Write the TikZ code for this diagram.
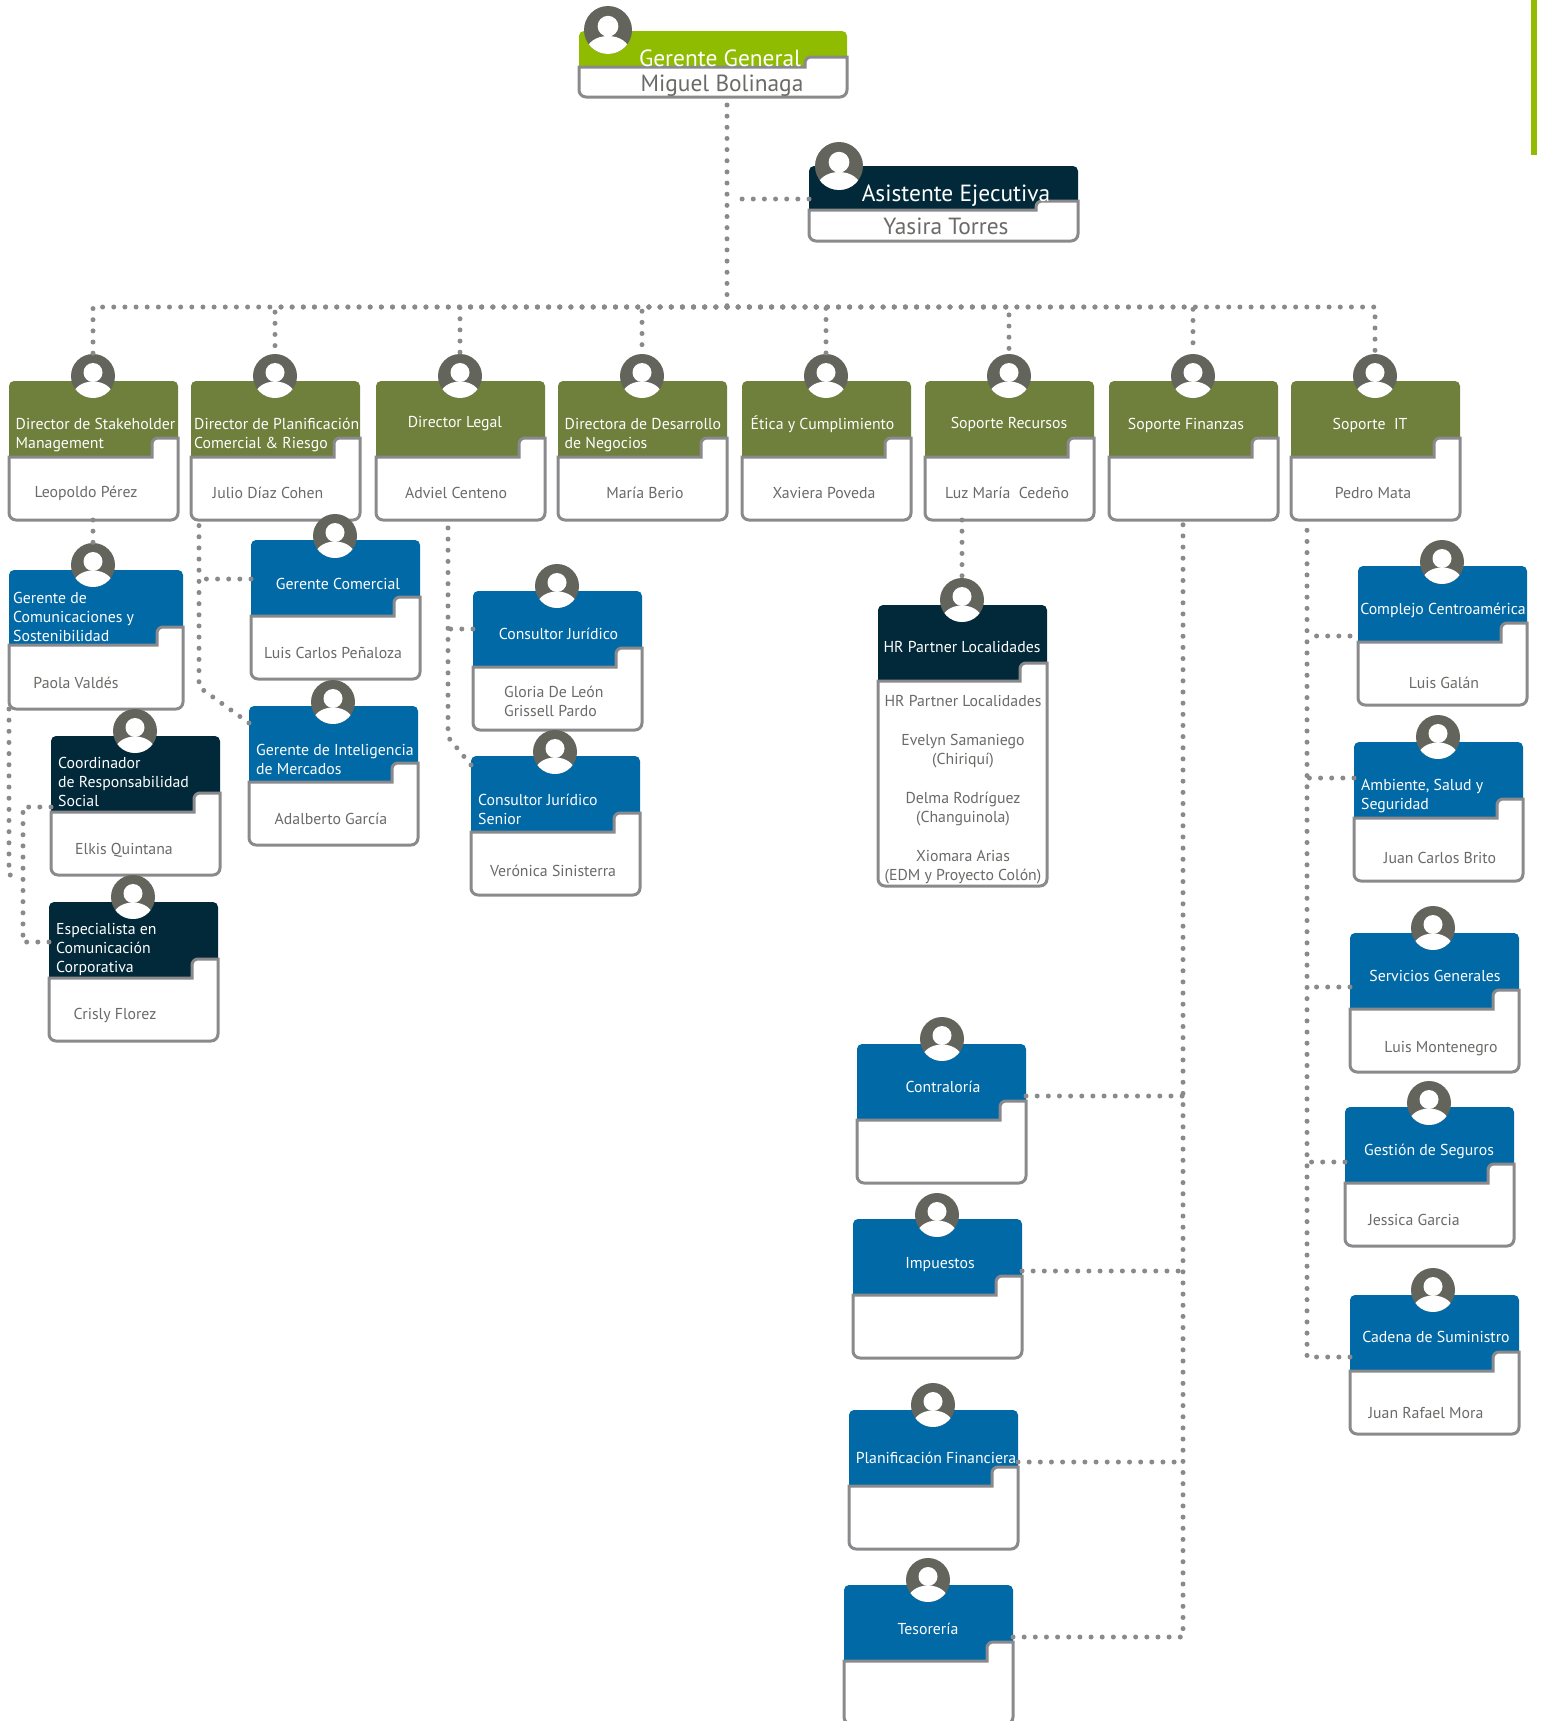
\documentclass[tikz,border=0pt]{standalone}
\usepackage{fontspec}
\setmainfont{PT Sans}
\usetikzlibrary{calc}

\definecolor{cardolive}{HTML}{6F7F3C}
\definecolor{cardblue}{HTML}{0069A6}
\definecolor{carddark}{HTML}{02293A}
\definecolor{cardlime}{HTML}{8FBC00}
\definecolor{cardline}{HTML}{8A8A8D}
\definecolor{avatargrey}{HTML}{63645B}
\definecolor{inktext}{HTML}{6A6A68}

\tikzset{
  cardbox/.style={inner sep=0pt, outer sep=0pt, anchor=north west},
  dotline/.style={draw=cardline, line width=5pt, line cap=round, dash pattern=on 0pt off 11.15pt},
  headtext/.style={text=white, inner sep=0pt, align=left, font=\fontsize{15.8}{19}\selectfont},
  nametext/.style={text=inktext, inner sep=0pt, align=center, font=\fontsize{15.8}{19}\selectfont},
  bighead/.style={text=white, inner sep=0pt, font=\fontsize{23.4}{26}\selectfont},
  bigname/.style={text=inktext, inner sep=0pt, font=\fontsize{23.4}{26}\selectfont},
}

% name, x, y, width, height, head, notch y, notch width, colour
\newcommand{\orgcard}[9]{
  \node[cardbox, minimum width=#4pt, minimum height=#5pt] (#1) at (#2,#3) {};
  \begin{scope}[shift={(#2,#3)}]
    \fill[#9] (0,#6) [rounded corners=5pt] -- (0,0) -- (#4,0) [sharp corners] -- (#4,#6) -- cycle;
    \filldraw[fill=white, draw=cardline, line width=3pt]
      (0,#6) [sharp corners] -- ({#4-#8},#6) [rounded corners=6pt] -- ({#4-#8},#7) [sharp corners] -- (#4,#7)
      [rounded corners=7pt] -- (#4,#5) -- (0,#5) [sharp corners] -- cycle;
  \end{scope}
}
\newcommand{\stdcard}[4]{\orgcard{#1}{#2}{#3}{169}{139}{76}{57}{26}{#4}}

% name, x, y, radius
\newcommand{\avatar}[4]{
  \node[circle, fill=avatargrey, inner sep=0pt, minimum size={2*#4*1pt}] (#1) at (#2,#3) {};
  \begin{scope}[shift={(#2,#3)}, scale=#4/22]
    \begin{scope}
      \clip (0,0) circle (22);
      \fill[white] (0,20) ellipse (20 and 14.5);
    \end{scope}
    \fill[white] (0,-3.5) circle (9.5);
  \end{scope}
}

\begin{document}
\begin{tikzpicture}[x=1pt, y=-1pt]
  \useasboundingbox (0,0) rectangle (1545,1721);
  \clip (0,0) rectangle (1545,1721);

  \fill[cardlime] (1531,0) rectangle (1537,155);

  % top
  \orgcard{general}{579}{31}{268}{66}{36}{26}{42}{cardlime}
  \avatar{general av}{608}{30}{24}
  \node[bighead] (general t) at (720,58) {Gerente General};
  \node[bigname] (general p) at (722,86) {Miguel Bolinaga};

  \orgcard{asistente}{809}{166}{269}{75}{44}{35}{42}{carddark}
  \avatar{asistente av}{839}{166}{24}
  \node[bighead] (asistente t) at (956,196) {Asistente Ejecutiva};
  \node[bigname] (asistente p) at (946,226) {Yasira Torres};

  % directors
  \stdcard{stake}{9}{381}{cardolive}
  \avatar{stake av}{93}{376}{22}
  \node[headtext, anchor=west] (stake t) at (15.5,435) {Director de Stakeholder\\Management};
  \node[nametext] (stake p) at (86,493) {Leopoldo Pérez};

  \stdcard{plan}{191}{381}{cardolive}
  \avatar{plan av}{275}{376}{22}
  \node[headtext, anchor=west] (plan t) at (194,435) {Director de Planificación\\Comercial \& Riesgo};
  \node[nametext] (plan p) at (268,493) {Julio Díaz Cohen};

  \stdcard{legal}{376}{381}{cardolive}
  \avatar{legal av}{460}{376}{22}
  \node[headtext] (legal t) at (455,424) {Director Legal};
  \node[nametext] (legal p) at (456,493) {Adviel Centeno};

  \stdcard{desarrollo}{558}{381}{cardolive}
  \avatar{desarrollo av}{642}{376}{22}
  \node[headtext, anchor=west] (desarrollo t) at (564.5,435) {Directora de Desarrollo\\de Negocios};
  \node[nametext] (desarrollo p) at (645,493) {María Berio};

  \stdcard{etica}{742}{381}{cardolive}
  \avatar{etica av}{826}{376}{22}
  \node[headtext] (etica t) at (822.5,424) {Ética y Cumplimiento};
  \node[nametext] (etica p) at (824,493) {Xaviera Poveda};

  \stdcard{recursos}{925}{381}{cardolive}
  \avatar{recursos av}{1009}{376}{22}
  \node[headtext] (recursos t) at (1009,424) {Soporte Recursos};
  \node[nametext] (recursos p) at (1007,493) {Luz María~~Cedeño};

  \stdcard{finanzas}{1109}{381}{cardolive}
  \avatar{finanzas av}{1193}{376}{22}
  \node[headtext] (finanzas t) at (1186,425) {Soporte Finanzas};

  \stdcard{it}{1291}{381}{cardolive}
  \avatar{it av}{1375}{376}{22}
  \node[headtext] (it t) at (1370,425) {Soporte~~IT};
  \node[nametext] (it p) at (1373,493) {Pedro Mata};

  % stakeholder side
  \orgcard{comunica}{9}{570}{174}{139}{75}{57}{26}{cardblue}
  \avatar{comunica av}{93}{565}{22}
  \node[headtext, anchor=west] (comunica t) at (13,617) {Gerente de\\Comunicaciones y\\Sostenibilidad};
  \node[nametext] (comunica p) at (76,683) {Paola Valdés};

  \stdcard{respon}{51}{736}{carddark}
  \avatar{respon av}{135}{731}{22}
  \node[headtext, anchor=west] (respon t) at (58,782) {Coordinador\\de Responsabilidad\\Social};
  \node[nametext] (respon p) at (124,850) {Elkis Quintana};

  \stdcard{corpo}{49}{902}{carddark}
  \avatar{corpo av}{133}{897}{22}
  \node[headtext, anchor=west] (corpo t) at (56,949) {Especialista en\\Comunicación\\Corporativa};
  \node[nametext] (corpo p) at (115,1015) {Crisly Florez};

  % planning side
  \stdcard{comercial}{251}{540}{cardblue}
  \avatar{comercial av}{335}{536}{22}
  \node[headtext] (comercial t) at (338,584) {Gerente Comercial};
  \node[nametext] (comercial p) at (333,653) {Luis Carlos Peñaloza};

  \stdcard{merca}{249}{706}{cardblue}
  \avatar{merca av}{333}{702}{22}
  \node[headtext, anchor=west] (merca t) at (256,759) {Gerente de Inteligencia\\de Mercados};
  \node[nametext] (merca p) at (331,819) {Adalberto García};

  % legal side
  \stdcard{juridico}{473}{591}{cardblue}
  \avatar{juridico av}{557}{586}{22}
  \node[headtext] (juridico t) at (558.5,634) {Consultor Jurídico};
  \node[nametext, align=left, anchor=west] (juridico p) at (504,701) {Gloria De León\\Grissell Pardo};

  \stdcard{senior}{471}{756}{cardblue}
  \avatar{senior av}{555}{752}{22}
  \node[headtext, anchor=west] (senior t) at (478,809) {Consultor Jurídico\\Senior};
  \node[nametext] (senior p) at (553,871) {Verónica Sinisterra};

  % hr
  \orgcard{hr}{878}{605}{169}{281}{76}{58}{27}{carddark}
  \avatar{hr av}{962}{600}{22}
  \node[headtext] (hr t) at (962,647) {HR Partner Localidades};
  \node[nametext] (hr p) at (963,790) {HR Partner Localidades\\[20pt]Evelyn Samaniego\\(Chiriquí)\\[20pt]Delma Rodríguez\\(Changuinola)\\[20pt]Xiomara Arias\\(EDM y Proyecto Colón)};

  % it side
  \stdcard{centro}{1358}{566}{cardblue}
  \avatar{centro av}{1442}{562}{22}
  \node[headtext] (centro t) at (1443,610) {Complejo Centroamérica};
  \node[nametext] (centro p) at (1444,683) {Luis Galán};

  \stdcard{ambiente}{1354}{742}{cardblue}
  \avatar{ambiente av}{1438}{737}{22}
  \node[headtext, anchor=west] (ambiente t) at (1361,796) {Ambiente, Salud y\\Seguridad};
  \node[nametext] (ambiente p) at (1440,858) {Juan Carlos Brito};

  \stdcard{servicios}{1350}{933}{cardblue}
  \avatar{servicios av}{1433}{928}{22}
  \node[headtext] (servicios t) at (1435,976) {Servicios Generales};
  \node[nametext] (servicios p) at (1441,1049) {Luis Montenegro};

  \stdcard{seguros}{1345}{1107}{cardblue}
  \avatar{seguros av}{1429}{1103}{22}
  \node[headtext] (seguros t) at (1429,1151) {Gestión de Seguros};
  \node[nametext] (seguros p) at (1414,1220) {Jessica Garcia};

  \stdcard{cadena}{1350}{1295}{cardblue}
  \avatar{cadena av}{1433}{1290}{22}
  \node[headtext] (cadena t) at (1436,1337) {Cadena de Suministro};
  \node[nametext] (cadena p) at (1426,1413) {Juan Rafael Mora};

  % finance side
  \stdcard{contra}{857}{1044}{cardblue}
  \avatar{contra av}{942}{1039}{22}
  \node[headtext] (contra t) at (943,1087) {Contraloría};

  \stdcard{impuestos}{853}{1219}{cardblue}
  \avatar{impuestos av}{937}{1215}{22}
  \node[headtext] (impuestos t) at (940,1265) {Impuestos};

  \stdcard{planfin}{849}{1410}{cardblue}
  \avatar{planfin av}{933}{1405}{22}
  \node[headtext] (planfin t) at (936,1458) {Planificación Financiera};

  \stdcard{tesoro}{844}{1585}{cardblue}
  \avatar{tesoro av}{928}{1580}{22}
  \node[headtext] (tesoro t) at (928,1629) {Tesorería};

  % connectors
  \coordinate (bus) at (727,307);
  \coordinate (trunk) at (727,199);
  \coordinate (stake low) at (9,875);
  \coordinate (stake end) at (14,875);
  \coordinate (plan top) at (199,520);
  \coordinate (plan low) at (199,687);
  \coordinate (legal top) at (448,520);
  \coordinate (legal low) at (448,737);
  \coordinate (respon low) at (23,807);
  \coordinate (corpo low) at (23,942);
  \coordinate (it top) at (1307,520);
  \coordinate (it low) at (1307,1357);
  \coordinate (fin top) at (1183,520);
  \coordinate (fin low) at (1183,1637);

  \draw[dotline] (bus |- general.south) ++(0,8) -- (bus);
  \draw[dotline] (asistente.west |- trunk) -- ++(-70,0);
  \foreach \who in {stake,plan,legal,desarrollo,etica,recursos,finanzas,it}
    \draw[dotline] (bus) -- (bus -| \who\space av.north) -- (\who\space av.north);

  \draw[dotline] (stake.south -| stake av) -- (comunica av.north);
  \draw[dotline] (comunica.south west) -- (stake low) -- (stake end);
  \draw[dotline] (respon.west |- respon low) -- (respon low) -- (corpo low);
  \draw[dotline] (corpo.west |- corpo low) -- (corpo low);

  \draw[dotline] (merca.west |- 0,723) -- (plan low) -- (plan top);
  \draw[dotline] (comercial.west |- 0,579) -- (plan top |- 0,579);

  \draw[dotline] (senior.west |- 0,765) -- (legal low) -- (legal top);
  \draw[dotline] (juridico.west |- 0,629) -- (legal top |- 0,629);

  \draw[dotline] (recursos.south -| hr av) -- (hr av.north);

  \draw[dotline] (cadena.west |- it low) -- (it low) -- (it top);
  \draw[dotline] (1350,636) -- (it top |- 0,636);
  \foreach \who/\py in {ambiente/778,servicios/987,seguros/1162}
    \draw[dotline] (\who.west |- 0,\py) -- (it top |- 0,\py);

  \draw[dotline] (tesoro.east |- fin low) -- (fin low) -- (fin top);
  \foreach \who/\py in {contra/1096,impuestos/1271,planfin/1462}
    \draw[dotline] (\who.east |- 0,\py) -- (fin top |- 0,\py);
\end{tikzpicture}
\end{document}
